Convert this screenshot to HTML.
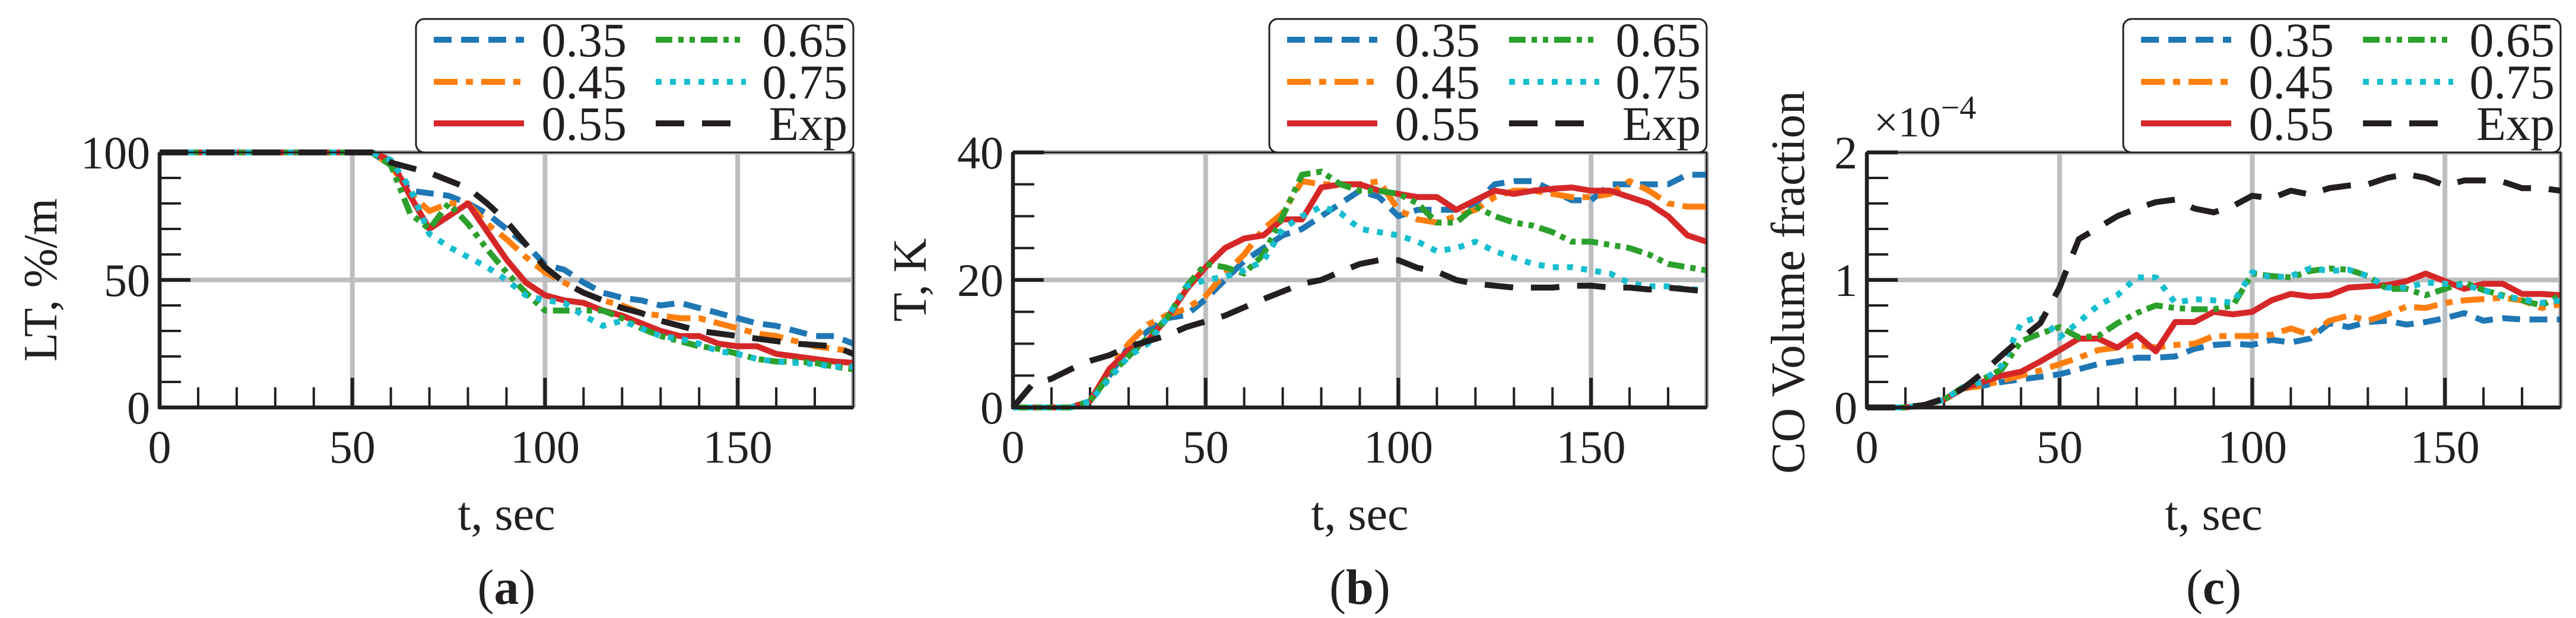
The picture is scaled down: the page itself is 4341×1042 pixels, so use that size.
<!DOCTYPE html>
<html><head><meta charset="utf-8"><style>
html,body{margin:0;padding:0;background:#fff;}
svg{display:block;}
text{font-family:"Liberation Serif","DejaVu Serif",serif;fill:#231f20;}
</style></head><body>
<svg id="fig" xmlns="http://www.w3.org/2000/svg" width="4341" height="1042" viewBox="0 0 4341 1042"></svg>
<script>
const tTimes = [0,5,10,15,20,25,30,35,40,45,50,55,60,65,70,75,80,85,90,95,100,105,110,115,120,125,130,135,140,145,150,155,160,165,170,175,180];
// Panel a: LT %/m
const ltExp  = [100,100,100,100,100,100,100,100,100,100,100,100,96,94,92,89,86,80,73,64,55,49,45,42,39,37,34,32,30,29,28,27,26,25,24.5,24,21];
const lt035  = [100,100,100,100,100,100,100,100,100,100,100,100,95,85,84,83,80,76,70,64,56,54,49,45,43,42,40,41,39,37,35,33,32,30,28,28,25];
const lt045  = [100,100,100,100,100,100,100,100,100,100,100,100,95,84,77,80,80,72,66,59,53,49,45,42,40,37,36,35,35,33,31,29,28,26,24,23,22];
const lt055  = [100,100,100,100,100,100,100,100,100,100,100,100,97,83,70,75,80,69,58,49,44,42,41,38,36,33,30,28,28,25,24,24,21,20,19,18,17.5];
const lt065  = [100,100,100,100,100,100,100,100,100,100,100,100,95,76,70,80,72,62,53,45,38,38,38,38,35,31,28,26,24,23,21,19,18,18,17.5,16,15];
const lt075  = [100,100,100,100,100,100,100,100,100,100,100,100,97,86,68,63,59,55,50,44,42,41,36,32,34,31,28,27,25,22,21,19,18,17.5,17,16,16];
// Panel b: T, K
const tkExp  = [0,3.6,4.5,6,7.3,8.2,9.5,10.4,11.3,12.6,13.5,14.4,15.7,17,18.2,19.4,20,21.3,22.5,23.1,23.1,21.9,21.3,20,19.4,19.1,18.8,18.8,18.8,19.1,19.1,18.8,18.8,18.5,18.8,18.5,18.2];
const tk035  = [0,0,0,0,1,5,9.5,12,14,14.5,17,20,23,25,27,28,30,32,34,33,30,31,31,31,32,35,35.5,35.5,34,32.5,32.5,35,35,35,35,36.5,36.5];
const tk045  = [0,0,0,0,1,6,10,13,14.5,15.5,17.5,21,24,28,30.5,35.5,35,35,35,35.5,31,29.5,29,30,31,33,34,34,33.5,33,33,33.5,35.5,34,32,31.5,31.5];
const tk055  = [0,0,0,0,1,6,9,10.5,14,18.5,22,25,26.5,27,29.5,29.5,34.5,35,35,34,33.5,33,33,31,32.5,34,33.5,34,34.3,34.5,34,34,33,32,30,27,26];
const tk065  = [0,0,0,0,1,5,8,11,14,19,22.5,22,21,24,30,36.5,37,35,34,34,33.5,32,29,29,31.5,30,29,28.5,27.5,26,26,25.5,25,24,22.5,22,21.5];
const tk075  = [0,0,0,0,1,4.5,8,10,14,19,20,20.5,21.5,23,28,30,31.5,30.5,28,27.5,27,26,24.5,25,26,24.5,23.5,22.5,22,22,21.5,21,19.5,19,19,18.5,18.5];
// Panel c: CO volume fraction (x1e-4)
const coExp  = [0,0,0,0.02,0.07,0.15,0.27,0.41,0.54,0.66,0.94,1.32,1.41,1.5,1.56,1.61,1.63,1.56,1.53,1.58,1.66,1.64,1.7,1.67,1.72,1.74,1.75,1.8,1.83,1.8,1.74,1.78,1.78,1.77,1.72,1.72,1.7];
const co035  = [0,0,0,0.02,0.06,0.15,0.17,0.2,0.22,0.24,0.26,0.3,0.34,0.36,0.39,0.39,0.4,0.46,0.49,0.5,0.49,0.53,0.51,0.54,0.66,0.63,0.67,0.68,0.65,0.67,0.7,0.74,0.68,0.7,0.69,0.69,0.69];
const co045  = [0,0,0,0.02,0.06,0.15,0.17,0.21,0.25,0.29,0.34,0.39,0.45,0.47,0.49,0.47,0.49,0.5,0.56,0.56,0.56,0.57,0.62,0.57,0.68,0.72,0.68,0.73,0.79,0.78,0.82,0.84,0.85,0.86,0.84,0.78,0.81];
const co055  = [0,0,0,0.02,0.06,0.15,0.2,0.25,0.28,0.36,0.45,0.54,0.54,0.47,0.57,0.44,0.67,0.67,0.75,0.73,0.75,0.84,0.89,0.87,0.88,0.94,0.95,0.96,0.99,1.05,0.99,0.93,0.97,0.97,0.89,0.89,0.88];
const co065  = [0,0,0,0.02,0.06,0.16,0.22,0.3,0.52,0.58,0.63,0.55,0.56,0.66,0.74,0.8,0.78,0.77,0.77,0.8,1.05,1.03,1.02,1.07,1.09,1.08,1.03,0.93,0.93,0.88,0.93,0.98,0.92,0.88,0.84,0.8,0.88];
const co075  = [0,0,0,0.02,0.06,0.16,0.2,0.33,0.66,0.72,0.55,0.67,0.8,0.88,1.02,1.02,0.82,0.85,0.84,0.82,1.06,1.02,1.03,1.09,1.07,1.08,1.03,0.94,0.94,0.98,0.97,0.96,0.92,0.87,0.85,0.82,0.84];

const xTicks = [0,50,100,150];
const legendLabels = ["0.35","0.45","0.55","0.65","0.75","Exp"];

const NS = "http://www.w3.org/2000/svg";
const svg = document.getElementById('fig');
function mk(tag, attrs, parent){
  const e = document.createElementNS(NS, tag);
  for (const k in attrs) e.setAttribute(k, attrs[k]);
  (parent||svg).appendChild(e);
  return e;
}
const styles = [
  {c:"#1f77b4", d:"30 16"},
  {c:"#ff7f0e", d:"40 14 12 14"},
  {c:"#d62728", d:""},
  {c:"#2ca02c", d:"28 10 9 10 9 10"},
  {c:"#17becf", d:"10 14"},
  {c:"#231f20", d:"48 30"}
];

const panels = [
  {id:"a", left:269, yMax:100, yMajor:[0,50,100], yMinor:10, series:[lt035,lt045,lt055,lt065,lt075,ltExp], ylabel:"LT, %/m", ylx:67, cap:"a"},
  {id:"b", left:1707, yMax:40, yMajor:[0,20,40], yMinor:5, series:[tk035,tk045,tk055,tk065,tk075,tkExp], ylabel:"T, K", ylx:1532, cap:"b"},
  {id:"c", left:3146, yMax:2, yMajor:[0,1,2], yMinor:0.2, series:[co035,co045,co055,co065,co075,coExp], ylabel:"CO Volume fraction", ylx:3012, cap:"c"}
];
const W = 1169, TOP = 257, BOT = 687;

panels.forEach(p=>{
  const g = mk('g', {});
  
  
  const X = v => p.left + v/180*W;
  const Y = v => BOT - v/p.yMax*(BOT-TOP);
  const R = p.left + W;
  // grid
  const grid = mk('g', {}, g);
  
  
  xTicks.concat([180]).forEach(v=>{
    const l = mk('line', {x1:X(v), x2:X(v), y1:TOP, y2:BOT, stroke:"#bcbec0", "stroke-width":8}, grid);
    
    
  });
  p.yMajor.forEach(v=>{
    const l = mk('line', {x1:p.left, x2:R, y1:Y(v), y2:Y(v), stroke:"#bcbec0", "stroke-width":8}, grid);
    
    
  });
  // minor ticks
  for (let v=10; v<180; v+=10){
    const major = v%50===0;
    const t = mk('line', {x1:X(v), x2:X(v), y1:BOT, y2:BOT-(major?50:34), stroke:"#231f20", "stroke-width":major?6:4}, g);
    
    
  }
  const nY = Math.round(p.yMax/p.yMinor);
  for (let i=0;i<=nY;i++){
    const v = i*p.yMinor;
    const major = p.yMajor.some(m=>Math.abs(m-v)<1e-9);
    const t = mk('line', {x1:p.left, x2:p.left+(major?52:36), y1:Y(v), y2:Y(v), stroke:"#231f20", "stroke-width":major?6:4}, g);
    
    
  }
  // series
  p.series.forEach((s,si)=>{
    const pts = s.map((v,i)=>X(tTimes[i]).toFixed(1)+","+Y(v).toFixed(1)).join(" ");
    const a = {points:pts, fill:"none", stroke:styles[si].c, "stroke-width":10, "stroke-linejoin":"round"};
    if (styles[si].d) a["stroke-dasharray"] = styles[si].d;
    const pl = mk('polyline', a, g);
    
    
  });
  // frame
  const fr = mk('rect', {x:p.left, y:TOP, width:W, height:BOT-TOP, fill:"none", stroke:"#231f20", "stroke-width":3}, g);
  
  
  const sp = mk('polyline', {points:`${p.left},${TOP} ${p.left},${BOT} ${R},${BOT}`, fill:"none", stroke:"#231f20", "stroke-width":6}, g);
  
  
  // tick labels
  xTicks.forEach(v=>{
    const t = mk('text', {x:X(v), y:780, "font-size":78, "text-anchor":"middle"}, g);
    t.textContent = v;
    
    
  });
  p.yMajor.forEach(v=>{
    const t = mk('text', {x:p.left-16, y:Y(v)+27, "font-size":78, "text-anchor":"end"}, g);
    t.textContent = v;
    
    
  });
  // axis labels
  const xl = mk('text', {x:p.left+W/2, y:893, "font-size":80, "text-anchor":"middle"}, g);
  xl.textContent = "t, sec";
  
  
  const yl = mk('text', {x:0, y:0, "font-size":80, "text-anchor":"middle", transform:`translate(${p.ylx+28},${(TOP+BOT)/2 + (p.id==='c'?4:0)}) rotate(-90)`}, g);
  yl.textContent = p.ylabel;
  
  
  // caption
  const cp = mk('text', {x:p.left+W/2, y:1018, "font-size":84, "text-anchor":"middle"}, g);
  cp.innerHTML = '(<tspan font-weight="bold">' + p.cap + '</tspan>)';
  
  
  // legend
  const lg = mk('g', {}, g);
  
  
  const L = R - 737;
  const box = mk('rect', {x:L, y:32, width:737, height:TOP-32, rx:14, fill:"#fff", stroke:"#231f20", "stroke-width":3}, lg);
  
  
  const rows = [67,138,208];
  legendLabels.forEach((lab,i)=>{
    const col = i<3?0:1, row = i%3;
    const x0 = L + (col===0?30:404), x1 = x0+152;
    const a = {x1:x0, x2:x1, y1:rows[row], y2:rows[row], stroke:styles[i].c, "stroke-width":10};
    if (styles[i].d) a["stroke-dasharray"] = styles[i].d;
    const ln = mk('line', a, lg);
    
    
    const tx = mk('text', {x: col===0 ? L+355 : R-10, y:rows[row]+28, "font-size":82, "text-anchor":"end"}, lg);
    tx.textContent = lab;
    
    
  });
  if (p.id==='c'){
    const m = mk('text', {x:3158, y:230, "font-size":72}, g);
    m.innerHTML = '×10<tspan dy="-30" font-size="56">−4</tspan>';
    
    
  }
});
</script>
</body></html>
